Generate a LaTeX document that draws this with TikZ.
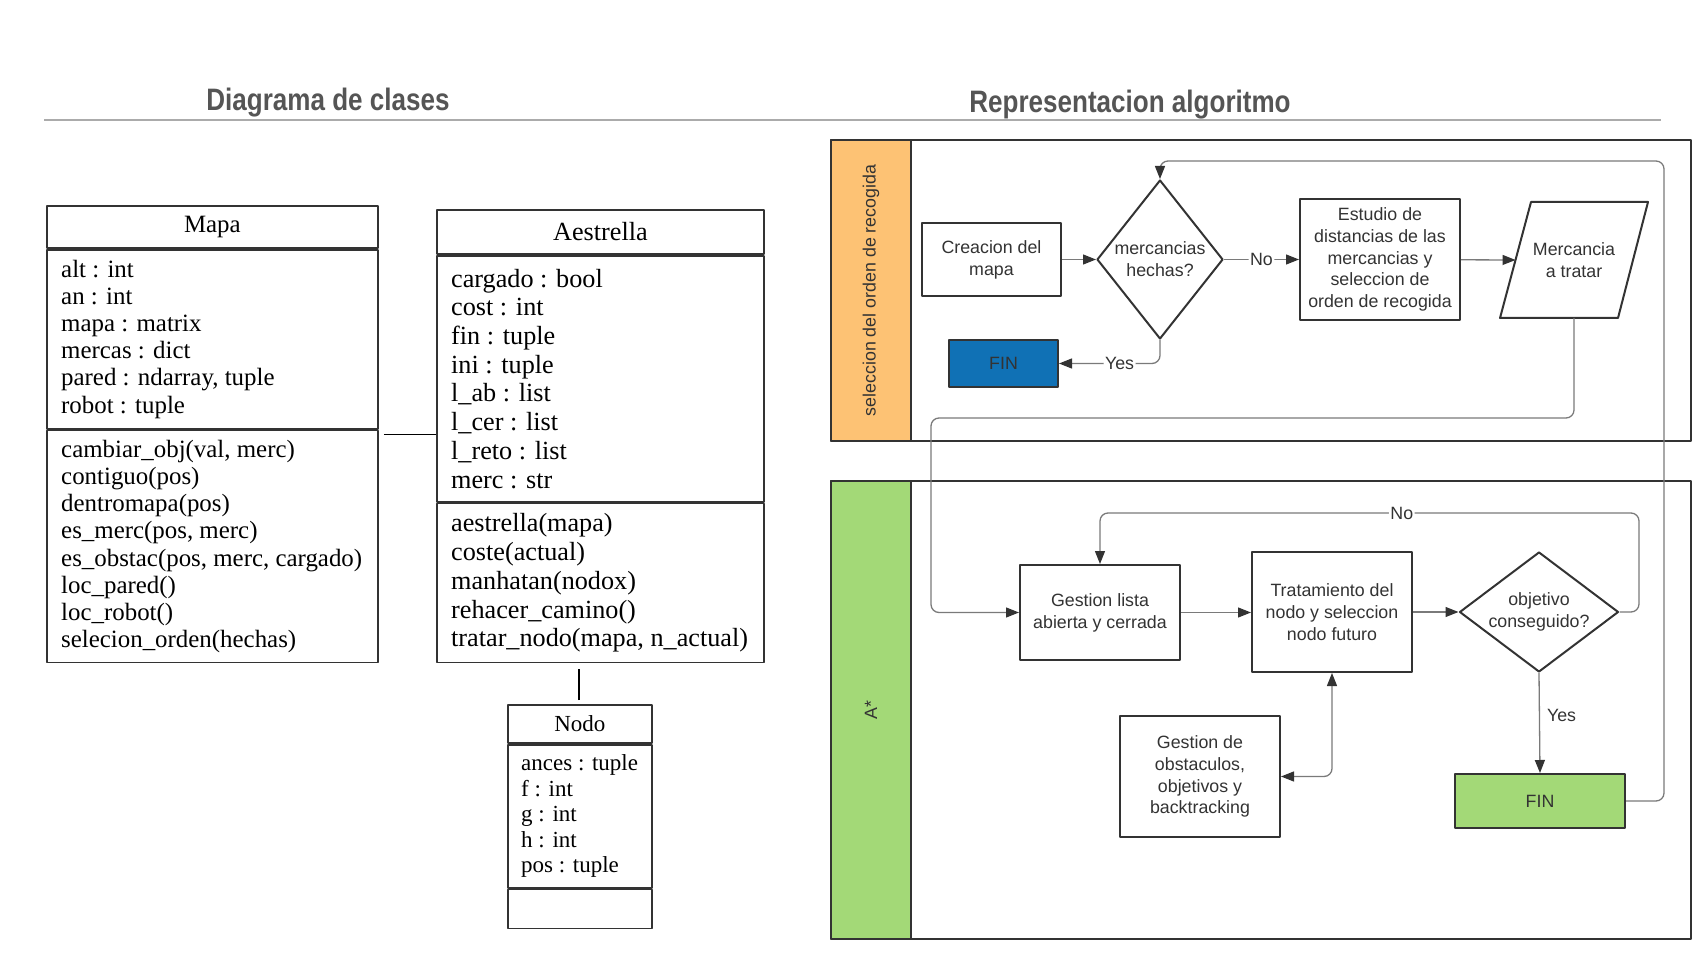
\documentclass[tikz,border=0pt]{standalone}
\usepackage{fontspec}
\setmainfont{Liberation Serif}
\setsansfont{Liberation Sans}
\newfontfamily\titlefont[FakeStretch=0.84]{Liberation Sans}
\usetikzlibrary{arrows.meta,shapes.geometric,calc}

\definecolor{boxdark}{HTML}{333333}
\definecolor{textdark}{HTML}{333333}
\definecolor{linkgray}{HTML}{7A7A7A}
\definecolor{titlegray}{HTML}{555555}
\definecolor{rulegray}{HTML}{ABABAB}
\definecolor{laneorange}{HTML}{FDC274}
\definecolor{lanegreen}{HTML}{A3D977}
\definecolor{finblue}{HTML}{1071B5}

\newcommand{\mapafont}{\fontsize{24.9}{27.2}\selectfont}
\newcommand{\aestfont}{\fontsize{26.2}{28.7}\selectfont}
\newcommand{\nodofont}{\fontsize{23}{25.6}\selectfont}
\newcommand{\flowfont}{\sffamily\fontsize{17.8}{21.8}\selectfont}

\begin{document}
\begin{tikzpicture}[x=1pt, y=-1pt, line join=round,
  compart/.style={draw=boxdark, line width=1.8pt, anchor=north west, inner sep=0pt},
  umltext/.style={anchor=west, align=left, inner sep=0pt, text=black},
  umledge/.style={draw=black, line width=1.2pt},
  titletext/.style={font=\titlefont\bfseries\fontsize{31}{36}\selectfont, text=titlegray},
  lanebox/.style={draw=boxdark, line width=2pt, anchor=north west, inner sep=0pt},
  lanelabel/.style={rotate=90, font=\flowfont, text=textdark},
  procbox/.style={draw=boxdark, line width=2pt, fill=white, align=center, font=\flowfont,
    text=textdark, inner sep=2pt, minimum width=160},
  decision/.style={diamond, draw=boxdark, line width=2pt, fill=white, align=center,
    font=\flowfont, text=textdark, inner sep=0pt},
  iotext/.style={align=center, font=\flowfont, text=textdark, inner sep=0pt},
  ioline/.style={draw=boxdark, line width=2pt, fill=white},
  flowlink/.style={draw=linkgray, line width=1.3pt, rounded corners=8pt,
    -{Triangle[length=13pt, width=10pt, color=boxdark]}},
  flowlabel/.style={fill=white, inner sep=1.5pt, font=\flowfont, text=textdark}]

  %% ════ titulos ════
  \node[titletext] (titclases) at (328,102.5) {Diagrama de clases};
  \node[titletext] (titalgo) at (1130,104.5) {Representacion algoritmo};
  \draw[rulegray, line width=2.5pt] (44,120) -- (1661,120);

  %% ════ diagrama de clases ════
  % Mapa
  \node[compart, minimum width=331, minimum height=42, font=\mapafont] (mapahead) at (46,205) {Mapa};
  \node[compart, minimum width=331, minimum height=179] (mapaattr) at (mapahead.south west) {};
  \node[compart, minimum width=331, minimum height=232] (mapameth) at (mapaattr.south west) {};
  \node[umltext, font=\mapafont] (mapaattrtxt) at ($(mapaattr.west)+(15,0)$)
    {alt : int\\an : int\\mapa : matrix\\mercas : dict\\pared : ndarray, tuple\\robot : tuple};
  \node[umltext, font=\mapafont] (mapamethtxt) at ($(mapameth.west)+(15,0)$)
    {cambiar\_obj(val, merc)\\contiguo(pos)\\dentromapa(pos)\\es\_merc(pos, merc)\\
     es\_obstac(pos, merc, cargado)\\loc\_pared()\\loc\_robot()\\selecion\_orden(hechas)};

  % Aestrella
  \node[compart, minimum width=327, minimum height=44, font=\aestfont] (aesthead) at (436,209) {Aestrella};
  \node[compart, minimum width=327, minimum height=246] (aestattr) at (aesthead.south west) {};
  \node[compart, minimum width=327, minimum height=159] (aestmeth) at (aestattr.south west) {};
  \node[umltext, font=\aestfont] (aestattrtxt) at ($(aestattr.west)+(15,0)$)
    {cargado : bool\\cost : int\\fin : tuple\\ini : tuple\\l\_ab : list\\l\_cer : list\\
     l\_reto : list\\merc : str};
  \node[umltext, font=\aestfont] (aestmethtxt) at ($(aestmeth.west)+(15,0)$)
    {aestrella(mapa)\\coste(actual)\\manhatan(nodox)\\rehacer\_camino()\\
     tratar\_nodo(mapa, n\_actual)};

  % Nodo
  \node[compart, minimum width=144, minimum height=38, font=\nodofont] (nodohead) at (507,704) {Nodo};
  \node[compart, minimum width=144, minimum height=143] (nodoattr) at (nodohead.south west) {};
  \node[compart, minimum width=144, minimum height=39] (nodometh) at (nodoattr.south west) {};
  \node[umltext, font=\nodofont] (nodoattrtxt) at ($(nodoattr.west)+(14,0)$)
    {ances : tuple\\f : int\\g : int\\h : int\\pos : tuple};

  % asociaciones
  \coordinate (mapalink) at ($(mapameth.north east)+(5,5)$);
  \draw[umledge] (mapalink) -- (mapalink -| aestattr.west);
  \coordinate (nodolink) at ($(nodohead.north)+(-1,-4)$);
  \draw[umledge] (nodolink) -- ($(nodolink |- aestmeth.south)+(0,6)$);

  %% ════ carriles ════
  \node[lanebox, minimum width=860, minimum height=301] (lanesel) at (830,139) {};
  \node[lanebox, fill=laneorange, minimum width=80, minimum height=301] (laneselhead) at (lanesel.north west) {};
  \node[lanelabel] (lanesellabel) at (laneselhead) {seleccion del orden de recogida};
  \node[lanebox, minimum width=860, minimum height=458] (lanestar) at (830,480) {};
  \node[lanebox, fill=lanegreen, minimum width=80, minimum height=458] (lanestarhead) at (lanestar.north west) {};
  \node[lanelabel] (lanestarlabel) at (lanestarhead) {A*};

  %% ════ nodos del algoritmo ════
  \node[procbox, minimum width=139, minimum height=73] (crea) at (991.5,259.5) {Creacion del\\mapa};
  \node[decision, minimum width=126, minimum height=159, aspect=0.8] (hechas) at (1160,259.5) {mercancias\\hechas?};
  \node[procbox, minimum height=121] (estudio) at (1380,259.5)
    {Estudio de\\distancias de las\\mercancias y\\seleccion de\\orden de recogida};
  % paralelogramo: contorno a mano alrededor del texto
  \path[ioline] (1531,202) -- (1648,202) -- (1618,318) -- (1500,318) -- cycle;
  \node[iotext] (mercancia) at (1574,260) {Mercancia\\a tratar};
  \coordinate (mercin) at (1515.5,260);
  \coordinate (mercout) at (1574,318);
  \node[procbox, fill=finblue, minimum width=109, minimum height=47] (finsel) at (1003.5,363.5) {FIN};

  \node[procbox, minimum height=95] (gestlista) at (1100,612.5) {Gestion lista\\abierta y cerrada};
  \node[procbox, minimum height=120] (tratam) at (1332,612) {Tratamiento del\\nodo y seleccion\\nodo futuro};
  \node[decision, minimum width=159, minimum height=120, aspect=1.33] (objetivo) at (1539,612) {objetivo\\conseguido?};
  \node[procbox, minimum height=121] (gestobst) at (1200,776.5) {Gestion de\\obstaculos,\\objetivos y\\backtracking};
  \node[procbox, fill=lanegreen, minimum width=170, minimum height=54] (finastar) at (1540,801) {FIN};

  %% ════ conexiones ════
  \coordinate (bajada) at (931,418);
  \coordinate (retorno) at (1664,161);
  \coordinate (nobucle) at (1639,513);

  \draw[flowlink] (crea) -- (hechas);
  \draw[flowlink] (hechas) -- node[flowlabel] {No} (estudio);
  \draw[flowlink] (estudio) -- (mercin);
  \draw[flowlink] (hechas.south) |- node[flowlabel, pos=0.7] {Yes} (finsel.east);
  \draw[flowlink] (mercout) |- (bajada) |- (gestlista.west);

  \draw[flowlink] (gestlista.east) -- (gestlista.east -| tratam.west);
  \draw[flowlink] (tratam.east) -- (tratam.east -| objetivo.west);
  \draw[flowlink] (objetivo.east) -| (nobucle) -| node[flowlabel, pos=0.22] {No} (gestlista.north);
  \draw[flowlink] (objetivo.south) -- node[flowlabel, fill=none, anchor=west, inner sep=7pt, pos=0.42] {Yes} (finastar.north);
  \draw[flowlink, {Triangle[length=13pt, width=10pt, color=boxdark]}-{Triangle[length=13pt, width=10pt, color=boxdark]}]
    (tratam.south) |- (gestobst.east);
  \draw[flowlink] (finastar.east) -| (retorno) -| (hechas.north);

  \pgfresetboundingbox
  \path[use as bounding box] (0,0) rectangle (1708,957);
\end{tikzpicture}
\end{document}
